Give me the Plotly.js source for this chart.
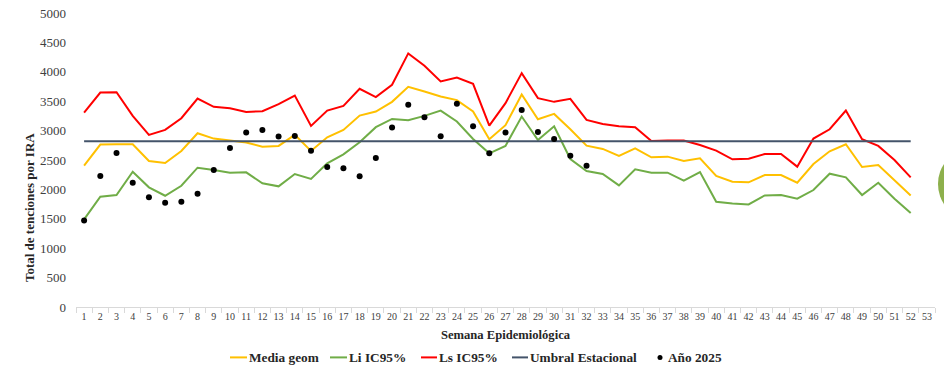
<!DOCTYPE html>
<html>
<head>
<meta charset="utf-8">
<script src="https://cdn.plot.ly/plotly-3.0.1.min.js"></script>
<style>html,body{margin:0;padding:0;background:#fff;}#chart{width:944px;height:368px;}</style>
</head>
<body>
<div id="chart"></div>
<script>
const weeks = Array.from({length: 52}, (_, i) => i + 1);
const tickLabels = Array.from({length: 53}, (_, i) => String(i + 1));
const mediaGeom = [2404,2762,2767,2767,2483,2449,2654,2955,2864,2830,2796,2727,2739,2927,2654,2887,3012,3256,3324,3489,3745,3665,3580,3518,3324,2853,3092,3614,3194,3284,3023,2744,2688,2569,2699,2546,2557,2483,2529,2228,2131,2120,2245,2245,2114,2432,2648,2768,2381,2415,2160,1898];
const liIC95 = [1490,1875,1904,2301,2035,1892,2062,2369,2330,2284,2290,2103,2052,2262,2177,2444,2597,2802,3058,3199,3177,3250,3341,3154,2858,2614,2739,3239,2841,3074,2517,2313,2262,2069,2342,2284,2284,2148,2296,1790,1762,1745,1898,1904,1841,1989,2267,2205,1904,2114,1841,1597];
const lsIC95 = [3307,3648,3653,3250,2927,3012,3211,3546,3404,3381,3318,3330,3449,3597,3080,3341,3421,3711,3569,3779,4313,4103,3835,3903,3796,3085,3467,3978,3552,3489,3540,3182,3114,3074,3058,2824,2830,2830,2756,2659,2512,2523,2603,2603,2387,2864,3023,3341,2853,2739,2500,2205];
const umbral = Array(52).fill(2820);
const weeks2025 = [1,2,3,4,5,6,7,8,9,10,11,12,13,14,15,16,17,18,19,20,21,22,23,24,25,26,27,28,29,30,31,32];
const ano2025 = [1473,2228,2620,2114,1865,1773,1790,1926,2330,2705,2966,3012,2898,2910,2659,2381,2359,2222,2534,3051,3438,3228,2904,3455,3074,2614,2966,3352,2978,2858,2574,2404];
const seriesNames = ['Media geom', 'Li IC95%', 'Ls IC95%', 'Umbral Estacional', 'Año 2025'];
const seriesColors = ['#FFC000', '#70AD47', '#FF0000', '#44546A', '#000000'];

const serif = 'Liberation Serif, Times New Roman, serif';
const traces = [
  {x: weeks, y: mediaGeom, name: seriesNames[0], type: 'scatter', mode: 'lines', line: {color: seriesColors[0], width: 2}},
  {x: weeks, y: liIC95, name: seriesNames[1], type: 'scatter', mode: 'lines', line: {color: seriesColors[1], width: 2}},
  {x: weeks, y: lsIC95, name: seriesNames[2], type: 'scatter', mode: 'lines', line: {color: seriesColors[2], width: 2}},
  {x: weeks, y: umbral, name: seriesNames[3], type: 'scatter', mode: 'lines', line: {color: seriesColors[3], width: 2}},
  {x: weeks2025, y: ano2025, name: seriesNames[4], type: 'scatter', mode: 'markers', marker: {color: seriesColors[4], size: 6}}
];

// pixel -> paper helpers (plot area: x 76..935, y 13..307)
const L = 76, R = 935, T = 13.3, B = 306.7;
const pxX = p => (p - L) / (R - L);
const pxY = p => (B - p) / (B - T);

// custom legend (line swatch immediately followed by bold text, as in the original)
const legendY = 357;
const legendItems = [
  {line: [230, 247], text: 247},
  {line: [330, 347], text: 347},
  {line: [421, 437], text: 437},
  {line: [512, 528], text: 528},
  {dot: 660, text: 666}
];
const shapes = [];
const annotations = [];
legendItems.forEach((it, i) => {
  if (it.line) {
    shapes.push({type: 'line', xref: 'paper', yref: 'paper', x0: pxX(it.line[0]), x1: pxX(it.line[1]), y0: pxY(legendY), y1: pxY(legendY), line: {color: seriesColors[i], width: 2}});
  } else {
    shapes.push({type: 'circle', xref: 'paper', yref: 'paper', x0: pxX(it.dot - 2.5), x1: pxX(it.dot + 2.5), y0: pxY(legendY + 2.5), y1: pxY(legendY - 2.5), fillcolor: seriesColors[i], line: {width: 0}});
  }
  annotations.push({xref: 'paper', yref: 'paper', x: pxX(it.text), y: pxY(legendY), xanchor: 'left', yanchor: 'middle', showarrow: false, text: seriesNames[i], font: {family: serif, size: 13.3, color: '#262626', weight: 'bold'}});
});
// y-axis title
annotations.push({xref: 'paper', yref: 'paper', x: pxX(29), y: pxY(208), xanchor: 'center', yanchor: 'middle', showarrow: false, textangle: -90, text: 'Total de tenciones por IRA', font: {family: serif, size: 13, color: '#262626', weight: 'bold'}});
// decorative green disc at right edge
shapes.push({type: 'circle', xref: 'paper', yref: 'paper', x0: pxX(938), x1: pxX(992), y0: pxY(216), y1: pxY(152), fillcolor: '#8DB04C', line: {width: 0}});

const layout = {
  width: 944, height: 368, autosize: false,
  margin: {l: 76, r: 9, t: 13, b: 61},
  paper_bgcolor: '#ffffff', plot_bgcolor: '#ffffff',
  font: {family: serif, color: '#404040'},
  showlegend: false,
  xaxis: {
    range: [0.5, 53.5], tickmode: 'array',
    tickvals: tickLabels.map(Number), ticktext: tickLabels,
    ticks: '', showgrid: false, zeroline: false,
    showline: true, linecolor: '#d9d9d9', linewidth: 1,
    tickfont: {family: serif, size: 10, color: '#404040'},
    minor: {tickmode: 'linear', tick0: 0.5, dtick: 1, ticks: 'outside', ticklen: 5, tickcolor: '#d9d9d9', showgrid: false},
    title: {text: 'Semana Epidemiológica', font: {family: serif, size: 12.6, color: '#262626', weight: 'bold'}, standoff: 9}
  },
  yaxis: {
    range: [0, 5000], tickmode: 'linear', tick0: 0, dtick: 500,
    showgrid: false, zeroline: false, showline: false, ticks: '',
    ticklabelstandoff: 9,
    tickfont: {family: serif, size: 13, color: '#404040'}
  },
  shapes: shapes,
  annotations: annotations
};

Plotly.newPlot('chart', traces, layout, {displayModeBar: false, staticPlot: true});
</script>
</body>
</html>
